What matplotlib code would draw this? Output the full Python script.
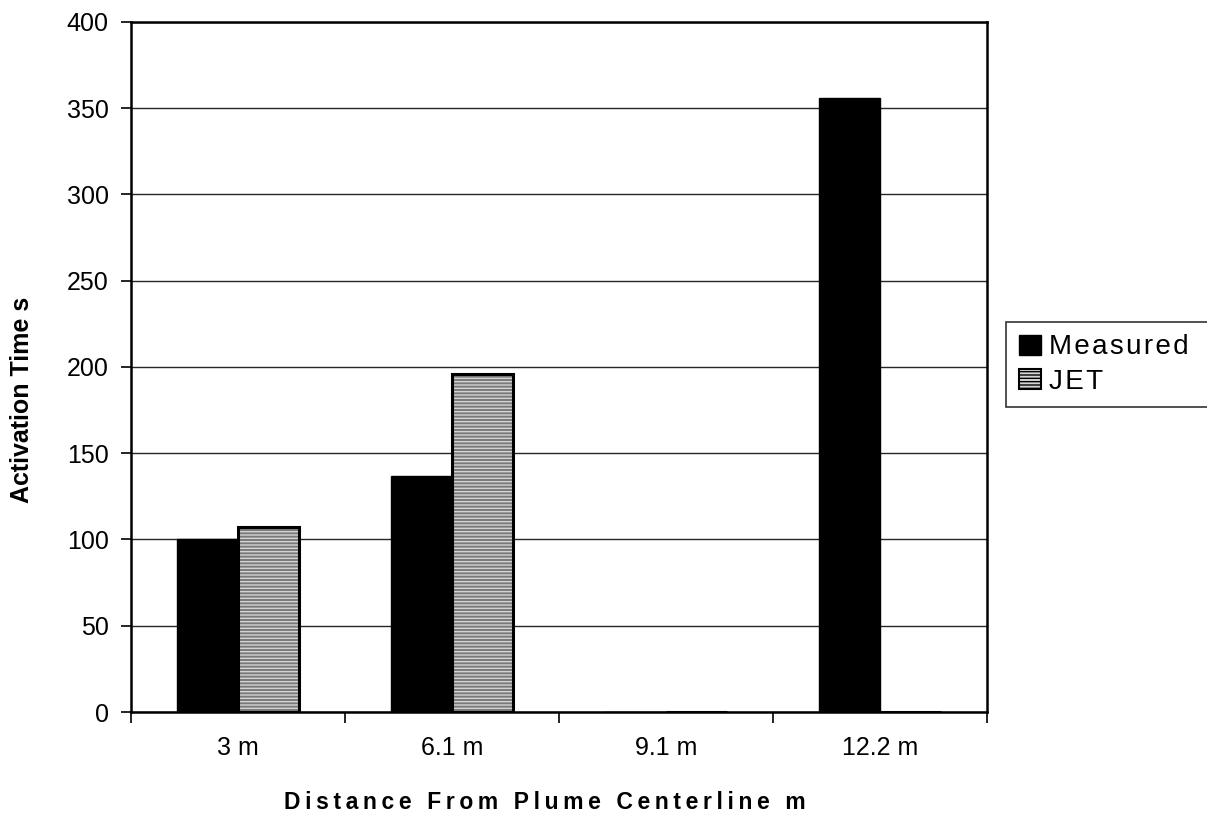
import numpy as np
import matplotlib.pyplot as plt

plt.rcParams['font.family'] = ['Liberation Sans', 'DejaVu Sans']

distances = ['3 m', '6.1 m', '9.1 m', '12.2 m']
measured = [100, 137, 0, 356]
jet = [107, 196, 0, 0]
yticks = [0, 50, 100, 150, 200, 250, 300, 350, 400]


def spaced(s, gap='\u2009'):
    # widen letter spacing by putting a thin space between characters
    return gap.join(s)


fig = plt.figure(figsize=(12.07, 8.14), dpi=100)
ax = fig.add_axes([0.1085, 0.1253, 0.7092, 0.8477])

x = np.arange(len(distances))
w = 0.285

ax.bar(x - w / 2, measured, w, color='black', edgecolor='black', linewidth=1, zorder=3)
# JET bars: grey with fine horizontal hatching, dark outline drawn on top
plt.rcParams['hatch.linewidth'] = 1.0
ax.bar(x + w / 2, jet, w, color='#7a7a7a', edgecolor='#d4d4d4', hatch='-----',
       linewidth=0, zorder=3)
ax.bar(x + w / 2, jet, w, fill=False, edgecolor='black', linewidth=2.2, zorder=4)
jet_handle = plt.Rectangle((0, 0), 1, 1, facecolor='#d4d4d4', edgecolor='black',
                           hatch='-----', linewidth=1.5)
meas_handle = plt.Rectangle((0, 0), 1, 1, facecolor='black', edgecolor='black')

ax.set_xlim(-0.5, len(distances) - 0.5)
ax.set_ylim(0, 400)
ax.set_yticks(yticks)
ax.set_xticks(x)
ax.set_xticklabels(distances)
ax.set_xticks(np.arange(len(distances) + 1) - 0.5, minor=True)
ax.grid(axis='y', color='#262626', linewidth=1.0, zorder=0)
ax.set_axisbelow(True)

ax.tick_params(axis='x', which='major', length=0, labelsize=18, pad=17)
ax.tick_params(axis='x', which='minor', length=8, width=1.2, direction='out')
ax.tick_params(axis='y', which='major', length=7, width=1.2, direction='out',
               labelsize=18, pad=9)
for s in ax.spines.values():
    s.set_linewidth(1.8)

ax.set_xlabel(spaced('Distance From Plume Centerline m'),
              fontsize=16.5, fontweight='bold')
ax.xaxis.set_label_coords(0.484, -0.115)
ax.set_ylabel('Activation Time s', fontsize=18, fontweight='bold')
ax.yaxis.set_label_coords(-0.113, 0.452)

leg = fig.legend([meas_handle, jet_handle], [spaced('Measured', '\u200a'), spaced('JET', '\u200a')],
                 loc='upper left', bbox_to_anchor=(1006 / 1207, 1 - 322 / 814, 0.25, 0),
                 mode='expand', fontsize=20, frameon=True, fancybox=False,
                 edgecolor='black', handlelength=0.8, handleheight=0.75,
                 handletextpad=0.3, borderpad=0.45, labelspacing=0.3, borderaxespad=0)
leg.get_frame().set_linewidth(1.2)

fig.savefig('out.png', dpi=100)
